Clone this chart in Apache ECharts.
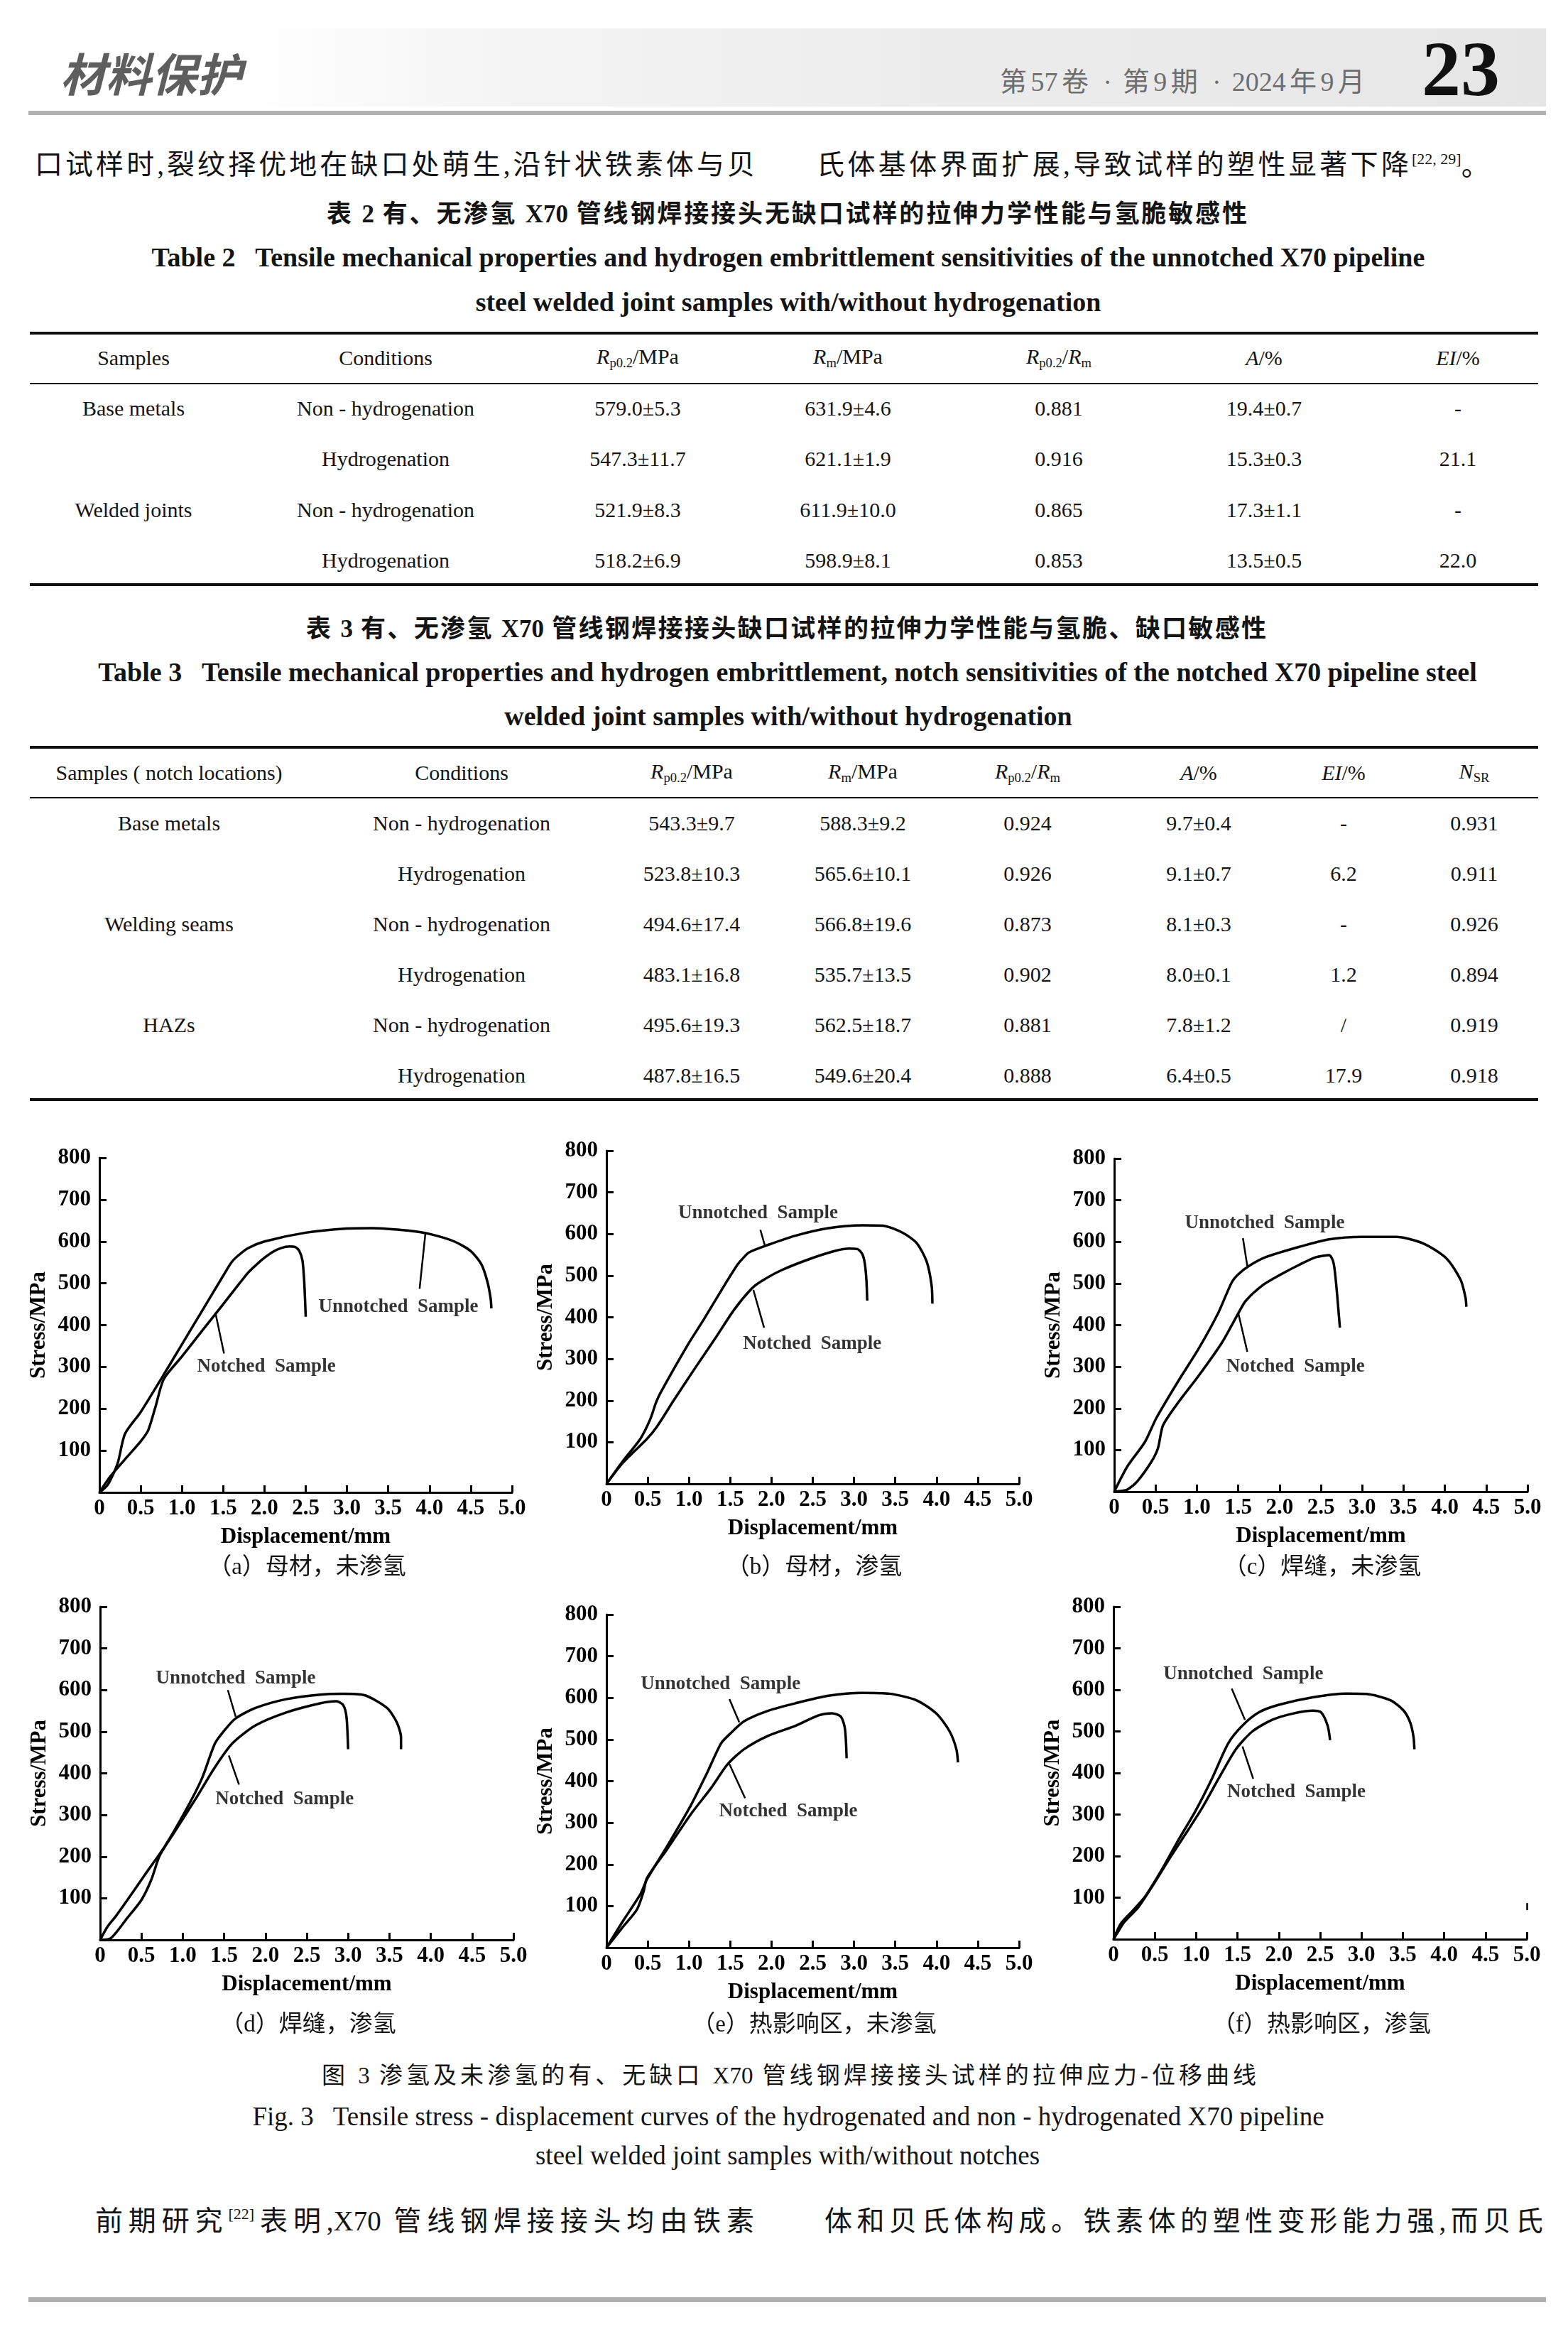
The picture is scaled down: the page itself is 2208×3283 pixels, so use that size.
<!DOCTYPE html>
<html>
<head>
<meta charset="utf-8">
<script src="https://cdn.jsdelivr.net/npm/echarts@6/dist/echarts.min.js"></script>
<style>
html,body{margin:0;padding:0;background:#fff;}
#page{position:relative;width:2208px;height:3283px;overflow:hidden;background:#fff;
  font-family:"Liberation Serif","Noto Sans CJK SC",serif;color:#141414;text-spacing-trim:space-all;}
.abs{position:absolute;line-height:1;}
.nw{white-space:nowrap;}
.jl{text-align:justify;text-align-last:justify;white-space:normal;}
sub{font-size:0.62em;vertical-align:-0.25em;}
#chart{position:absolute;left:0;top:1590px;width:2208px;height:1310px;}
</style>
</head>
<body>
<div id="page">
  <div id="chart"></div>
</div>
<script>
// ---------------- DATA ----------------
// Table 2
const t2Samples    = ['Base metals', '', 'Welded joints', ''];
const t2Conditions = ['Non - hydrogenation', 'Hydrogenation', 'Non - hydrogenation', 'Hydrogenation'];
const t2Rp         = ['579.0±5.3', '547.3±11.7', '521.9±8.3', '518.2±6.9'];
const t2Rm         = ['631.9±4.6', '621.1±1.9', '611.9±10.0', '598.9±8.1'];
const t2Ratio      = ['0.881', '0.916', '0.865', '0.853'];
const t2A          = ['19.4±0.7', '15.3±0.3', '17.3±1.1', '13.5±0.5'];
const t2EI         = ['-', '21.1', '-', '22.0'];

// Table 3
const t3Samples    = ['Base metals', '', 'Welding seams', '', 'HAZs', ''];
const t3Conditions = ['Non - hydrogenation', 'Hydrogenation', 'Non - hydrogenation', 'Hydrogenation', 'Non - hydrogenation', 'Hydrogenation'];
const t3Rp         = ['543.3±9.7', '523.8±10.3', '494.6±17.4', '483.1±16.8', '495.6±19.3', '487.8±16.5'];
const t3Rm         = ['588.3±9.2', '565.6±10.1', '566.8±19.6', '535.7±13.5', '562.5±18.7', '549.6±20.4'];
const t3Ratio      = ['0.924', '0.926', '0.873', '0.902', '0.881', '0.888'];
const t3A          = ['9.7±0.4', '9.1±0.7', '8.1±0.3', '8.0±0.1', '7.8±1.2', '6.4±0.5'];
const t3EI         = ['-', '6.2', '-', '1.2', '/', '17.9'];
const t3NSR        = ['0.931', '0.911', '0.926', '0.894', '0.919', '0.918'];

// Axis ticks
const xTicks = [0, 0.5, 1.0, 1.5, 2.0, 2.5, 3.0, 3.5, 4.0, 4.5, 5.0];
const yTicks = [0, 100, 200, 300, 400, 500, 600, 700, 800];

// Curves [displacement mm, stress MPa]
const aUnnotched = [[0,0],[0.1,18],[0.22,69],[0.31,140],[0.5,192],[0.75,272],[1.0,354],[1.25,436],[1.5,518],[1.6,550],[1.68,566],[1.8,584],[2.0,600],[2.5,621],[3.0,631],[3.3,632],[3.75,626],[4.0,618],[4.3,600],[4.5,577],[4.63,545],[4.7,505],[4.74,465],[4.75,440]];
const aNotched   = [[0,0],[0.14,40],[0.35,88],[0.5,122],[0.59,148],[0.68,205],[0.78,271],[1.0,325],[1.25,388],[1.5,450],[1.8,525],[1.9,544],[2.0,561],[2.1,575],[2.2,584],[2.3,588],[2.37,587],[2.42,578],[2.46,555],[2.48,510],[2.49,470],[2.5,420]];
const bUnnotched = [[0,0],[0.2,55],[0.41,108],[0.53,155],[0.6,195],[0.65,217],[0.98,332],[1.18,395],[1.43,477],[1.59,527],[1.65,541],[1.73,556],[1.96,574],[2.29,596],[2.69,614],[3.1,621],[3.35,620],[3.59,603],[3.76,578],[3.88,534],[3.94,477],[3.95,433]];
const bNotched   = [[0,0],[0.2,51],[0.49,108],[0.61,137],[0.82,202],[1.06,274],[1.31,347],[1.55,419],[1.76,469],[1.88,487],[2.12,513],[2.49,542],[2.78,560],[2.94,565],[3.04,564],[3.1,552],[3.13,530],[3.15,490],[3.16,440]];
const cUnnotched = [[0,0],[0.16,61],[0.37,119],[0.51,177],[0.77,264],[1.02,343],[1.26,430],[1.42,502],[1.5,522],[1.63,542],[1.83,563],[2.24,588],[2.6,606],[3.0,612],[3.41,612],[3.74,596],[4.02,560],[4.19,509],[4.25,466],[4.26,444]];
const cNotched   = [[0,0],[0.1,2],[0.16,5],[0.28,25],[0.45,72],[0.53,105],[0.59,159],[0.77,213],[1.02,278],[1.3,357],[1.5,428],[1.59,458],[1.79,495],[2.0,520],[2.24,545],[2.44,563],[2.6,568],[2.65,552],[2.68,509],[2.73,394]];
const dUnnotched = [[0,0],[0.09,32],[0.19,57],[0.33,96],[0.54,156],[0.78,224],[1.03,309],[1.23,387],[1.39,472],[1.52,507],[1.64,532],[1.88,557],[2.25,578],[2.66,589],[2.94,591],[3.19,588],[3.47,557],[3.59,522],[3.64,486],[3.64,458]];
const dNotched   = [[0,0],[0.13,4],[0.33,53],[0.5,96],[0.62,145],[0.72,202],[0.9,259],[1.15,337],[1.39,415],[1.6,472],[1.88,515],[2.25,546],[2.66,568],[2.86,573],[2.94,564],[2.98,536],[3.0,458]];
const eUnnotched = [[0,0],[0.2,64],[0.41,128],[0.49,164],[0.73,242],[1.02,341],[1.22,420],[1.39,491],[1.51,516],[1.67,544],[1.96,569],[2.29,587],[2.69,605],[3.1,612],[3.43,610],[3.76,594],[4.0,562],[4.16,519],[4.24,477],[4.26,445]];
const eNotched   = [[0,0],[0.2,50],[0.37,92],[0.45,135],[0.49,167],[0.73,235],[1.02,320],[1.27,384],[1.47,441],[1.67,477],[1.96,509],[2.29,533],[2.57,558],[2.73,563],[2.84,555],[2.89,526],[2.91,455]];
const fUnnotched = [[0,0],[0.09,38],[0.22,66],[0.38,102],[0.58,166],[0.78,237],[0.99,308],[1.19,386],[1.39,472],[1.56,514],[1.76,546],[2.0,564],[2.41,582],[2.82,591],[3.06,590],[3.35,575],[3.51,550],[3.59,521],[3.63,486],[3.64,457]];
const fNotched   = [[0,0],[0.05,16],[0.13,41],[0.3,77],[0.5,137],[0.7,201],[0.91,265],[1.07,315],[1.27,386],[1.48,457],[1.68,500],[1.92,528],[2.17,543],[2.41,550],[2.51,546],[2.59,514],[2.62,479]];

// Annotation anchors (data coordinates)
const unnLabels  = [[2.65,444],[0.865,650],[0.85,645],[0.67,627],[0.41,633],[0.6,637]];
const notLabels  = [[1.18,300],[1.65,336],[1.35,300],[1.39,337],[1.36,327],[1.37,354]];
const unnLeaders = [[[3.95,619],[3.88,487]],[[1.865,610],[1.92,572]],[[1.557,609],[1.61,542]],[[1.545,600],[1.64,536]],[[1.49,597],[1.61,541]],[[1.43,603],[1.59,528]]];
const notLeaders = [[[1.405,430],[1.51,332]],[[1.78,466],[1.91,375]],[[1.5,430],[1.61,336]],[[1.557,443],[1.68,373]],[[1.49,441],[1.68,359]],[[1.56,464],[1.69,386]]];
const strayMark  = [[5.0,70],[5.0,87]];

const captions = ['（a）母材，未渗氢','（b）母材，渗氢','（c）焊缝，未渗氢','（d）焊缝，渗氢','（e）热影响区，未渗氢','（f）热影响区，渗氢'];

// ---------------- PAGE TEXT ----------------
const page = document.getElementById('page');
function put(html, x, y, css, center) {
  const d = document.createElement('div');
  d.className = 'abs';
  d.innerHTML = html;
  d.style.left = x + 'px';
  d.style.top = y + 'px';
  d.style.transform = center ? 'translate(-50%,-50%)' : 'translateY(-50%)';
  if (!css.width) d.classList.add('nw');
  Object.assign(d.style, css);
  page.appendChild(d);
  return d;
}
function putJ(html, x, y, css) {
  const d = put(html, x, y, css, false);
  d.className = 'abs jl';
  return d;
}
function rule(x, y, w, h, color) {
  const d = document.createElement('div');
  d.style.cssText = `position:absolute;left:${x}px;top:${y}px;width:${w}px;height:${h}px;background:${color};`;
  page.appendChild(d);
}

// Header
const band = document.createElement('div');
band.style.cssText = 'position:absolute;left:40px;top:40px;width:2137px;height:110px;background:linear-gradient(90deg,#ffffff 0%,#ffffff 14%,#f4f4f4 32%,#ececec 60%,#e6e6e6 100%);';
page.appendChild(band);
rule(40, 156, 2137, 6, '#b0b0b0');
put('材料保护', 85, 101, {fontFamily:'"Noto Sans CJK SC"', fontWeight:'700', fontSize:'64px', color:'#5e5e5e', fontStyle:'italic'}, false);
putJ('第57卷 · 第9期 · 2024年9月', 1408, 115, {width:'514px', fontSize:'38px', color:'#6e6e6e'});
put('23', 2057, 97, {fontSize:'110px', fontWeight:'900', color:'#111', fontFamily:'"Liberation Serif",serif'}, true);

// Body line 1
putJ('口试样时,裂纹择优地在缺口处萌生,沿针状铁素体与贝', 49, 231, {width:'1014px', fontSize:'39px'});
putJ('氏体基体界面扩展,导致试样的塑性显著下降', 1150, 231, {width:'834px', fontSize:'39px'});
put('<span style="font-size:22px;position:relative;top:-16px">[22, 29]</span>。', 1988, 233, {fontSize:'39px'}, false);

// Table 2 captions
putJ('表 2  有、无渗氢 X70 管线钢焊接接头无缺口试样的拉伸力学性能与氢脆敏感性', 460, 301, {width:'1296px', fontSize:'35px', fontWeight:'bold'});
put('Table 2 &nbsp; Tensile mechanical properties and hydrogen embrittlement sensitivities of the unnotched X70 pipeline', 1110, 362, {fontSize:'38px', fontWeight:'bold'}, true);
put('steel welded joint samples with/without hydrogenation', 1110, 425, {fontSize:'38px', fontWeight:'bold'}, true);

// Table 2 body
const t2ColX = [188, 543, 898, 1194, 1491, 1780, 2053];
const t2Head = ['Samples','Conditions','<i>R</i><sub>p0.2</sub>/MPa','<i>R</i><sub>m</sub>/MPa','<i>R</i><sub>p0.2</sub>/<i>R</i><sub>m</sub>','<i>A</i>/%','<i>EI</i>/%'];
const t2RowY = [575, 646, 718, 789];
rule(42, 467, 2124, 4, '#111');
rule(42, 539, 2124, 2, '#111');
rule(42, 821, 2124, 4, '#111');
t2Head.forEach((h,i)=>put(h, t2ColX[i], 504, {fontSize:'30px'}, true));
const t2Cols = [t2Samples, t2Conditions, t2Rp, t2Rm, t2Ratio, t2A, t2EI];
t2Cols.forEach((col,ci)=>col.forEach((v,ri)=>{ if (v) put(v, t2ColX[ci], t2RowY[ri], {fontSize:'30px'}, true); }));

// Table 3 captions
putJ('表 3  有、无渗氢 X70 管线钢焊接接头缺口试样的拉伸力学性能与氢脆、缺口敏感性', 431, 885, {width:'1352px', fontSize:'35px', fontWeight:'bold'});
put('Table 3 &nbsp; Tensile mechanical properties and hydrogen embrittlement, notch sensitivities of the notched X70 pipeline steel', 1109, 946, {fontSize:'38px', fontWeight:'bold'}, true);
put('welded joint samples with/without hydrogenation', 1110, 1008, {fontSize:'38px', fontWeight:'bold'}, true);

// Table 3 body
const t3ColX = [238, 650, 974, 1215, 1447, 1688, 1892, 2076];
const t3Head = ['Samples ( notch locations)','Conditions','<i>R</i><sub>p0.2</sub>/MPa','<i>R</i><sub>m</sub>/MPa','<i>R</i><sub>p0.2</sub>/<i>R</i><sub>m</sub>','<i>A</i>/%','<i>EI</i>/%','<i>N</i><sub>SR</sub>'];
const t3RowY = [1159, 1230, 1301, 1372, 1443, 1514];
rule(42, 1050, 2124, 4, '#111');
rule(42, 1122, 2124, 2, '#111');
rule(42, 1546, 2124, 4, '#111');
t3Head.forEach((h,i)=>put(h, t3ColX[i], 1088, {fontSize:'30px'}, true));
const t3Cols = [t3Samples, t3Conditions, t3Rp, t3Rm, t3Ratio, t3A, t3EI, t3NSR];
t3Cols.forEach((col,ci)=>col.forEach((v,ri)=>{ if (v) put(v, t3ColX[ci], t3RowY[ri], {fontSize:'30px'}, true); }));

// Figure caption
putJ('图 3  渗氢及未渗氢的有、无缺口 X70 管线钢焊接接头试样的拉伸应力-位移曲线', 453, 2922, {width:'1316px', fontSize:'33px'});
put('Fig. 3 &nbsp; Tensile stress - displacement curves of the hydrogenated and non - hydrogenated X70 pipeline', 1110, 2979, {fontSize:'37px'}, true);
put('steel welded joint samples with/without notches', 1109, 3034, {fontSize:'37px'}, true);

// Body line 2
putJ('前期研究<span style="font-size:22px;position:relative;top:-16px">[22]</span>表明,X70 管线钢焊接接头均由铁素', 134, 3126, {width:'928px', fontSize:'39px'});
putJ('体和贝氏体构成。铁素体的塑性变形能力强,而贝氏', 1161, 3126, {width:'1012px', fontSize:'39px'});
rule(40, 3234, 2137, 7, '#b0b0b0');

// ---------------- CHARTS ----------------
const FF = '"Liberation Serif", serif';
const grids = [
  {left:140, top:40,  width:581, height:471},
  {left:854, top:30,  width:581, height:469},
  {left:1569,top:41,  width:582, height:469},
  {left:141, top:672, width:582, height:469},
  {left:854, top:683, width:581, height:469},
  {left:1568,top:672, width:582, height:468}
];
const unnCurves = [aUnnotched, bUnnotched, cUnnotched, dUnnotched, eUnnotched, fUnnotched];
const notCurves = [aNotched, bNotched, cNotched, dNotched, eNotched, fNotched];
const capY = [2205, 2205, 2205, 2849, 2849, 2849];

const option = {animation:false, grid:[], xAxis:[], yAxis:[], series:[]};
const axisLine = {show:true, onZero:false, lineStyle:{color:'#000', width:3}};
const axisTick = {show:true, inside:true, length:10, lineStyle:{color:'#000', width:3}};

grids.forEach((g,i)=>{
  option.grid.push(Object.assign({containLabel:false}, g));
  option.xAxis.push({
    type:'value', gridIndex:i, min:xTicks[0], max:xTicks[xTicks.length-1], interval:xTicks[1]-xTicks[0],
    name:'Displacement/mm', nameLocation:'middle', nameGap:47,
    nameTextStyle:{fontFamily:FF, fontSize:31, fontWeight:'bold', color:'#000'},
    axisLine, axisTick, splitLine:{show:false},
    axisLabel:{fontFamily:FF, fontSize:31, fontWeight:'bold', color:'#000', margin:7, formatter:v=> v===0 ? '0' : v.toFixed(1)}
  });
  option.yAxis.push({
    type:'value', gridIndex:i, min:yTicks[0], max:yTicks[yTicks.length-1], interval:yTicks[1]-yTicks[0],
    name:'Stress/MPa', nameLocation:'middle', nameGap:70, nameRotate:90,
    nameTextStyle:{fontFamily:FF, fontSize:31, fontWeight:'bold', color:'#000'},
    axisLine, axisTick, splitLine:{show:false},
    axisLabel:{fontFamily:FF, fontSize:31, fontWeight:'bold', color:'#000', margin:12, formatter:v=> v===0 ? '' : String(v)}
  });
  const mlStyle = {silent:true, symbol:['none','none'], animation:false, label:{show:false},
                   lineStyle:{color:'#000', width:2.5, type:'solid'}, emphasis:{disabled:true}};
  const unnML = [[{coord:unnLeaders[i][0]},{coord:unnLeaders[i][1]}]];
  if (i === 5) unnML.push([{coord:strayMark[0]},{coord:strayMark[1]}]);
  option.series.push({
    type:'line', xAxisIndex:i, yAxisIndex:i, data:unnCurves[i], showSymbol:false, symbol:'none',
    smooth:0.25, lineStyle:{color:'#000', width:3.5}, silent:true,
    markLine:Object.assign({data:unnML}, mlStyle)
  });
  option.series.push({
    type:'line', xAxisIndex:i, yAxisIndex:i, data:notCurves[i], showSymbol:false, symbol:'none',
    smooth:0.25, lineStyle:{color:'#000', width:3.5}, silent:true,
    markLine:Object.assign({data:[[{coord:notLeaders[i][0]},{coord:notLeaders[i][1]}]]}, mlStyle)
  });
  option.series.push({
    type:'scatter', xAxisIndex:i, yAxisIndex:i, symbolSize:1, itemStyle:{color:'rgba(0,0,0,0)'}, silent:true,
    data:[{name:'Unnotched  Sample', value:unnLabels[i]}, {name:'Notched  Sample', value:notLabels[i]}],
    label:{show:true, position:'right', distance:0, formatter:'{b}', fontFamily:FF, fontSize:27, fontWeight:'bold', color:'#000'}
  });
  put(captions[i], g.left + g.width/2 + 2, capY[i], {fontSize:'33px', fontFamily:'"Liberation Serif","Noto Sans CJK SC",serif'}, true);
});

const chart = echarts.init(document.getElementById('chart'), null, {renderer:'canvas', width:2208, height:1310});
chart.setOption(option);
</script>
</body>
</html>
